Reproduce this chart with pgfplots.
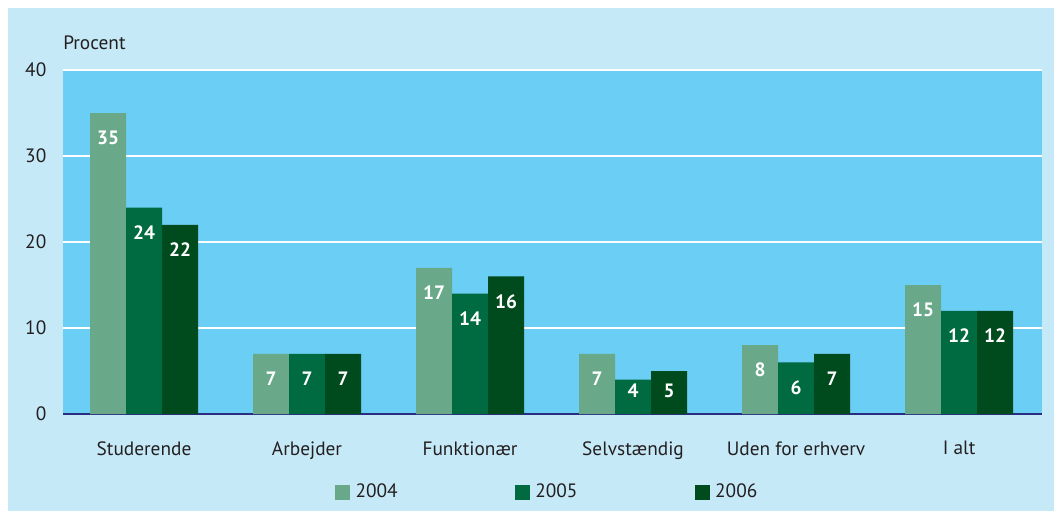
\documentclass[border=0pt]{standalone}
\usepackage{fontspec}
\setmainfont{PT Sans}
\usepackage{pgfplots}
\usepackage{pgfplotstable}
\pgfplotsset{compat=1.18}
\definecolor{outerbg}{HTML}{C6E9F8}
\definecolor{plotbg}{HTML}{6BCEF4}
\definecolor{cA}{HTML}{69A98A}
\definecolor{cB}{HTML}{006A40}
\definecolor{cC}{HTML}{004B1E}
\definecolor{navy}{HTML}{2B2E80}
\definecolor{textgray}{HTML}{231F20}
\pgfplotstableread{
x a b c
0 35 24 22
1 7 7 7
2 17 14 16
3 7 4 5
4 8 6 7
5 15 12 12
}\datatable
\begin{document}
\fontsize{14.5}{17}\selectfont
\begin{tikzpicture}[x=1pt,y=1pt]
\path[use as bounding box] (0,0) rectangle (790.5,383.25);
\fill[white] (0,0) rectangle (790.5,383.25);
\fill[outerbg] (6,0) rectangle (790.5,377.25);
\begin{axis}[
 at={(47.25pt,72.75pt)}, anchor=south west,
 scale only axis, width=734.25pt, height=258pt,
 xmin=-0.497, xmax=5.509, ymin=0, ymax=40,
 ytick={0,10,20,30,40}, xtick={0,...,5},
 xticklabels={Studerende,Arbejder,Funktionær,Selvstændig,Uden for erhverv,I alt},
 ybar=0pt, bar width=27pt,
 axis background/.style={fill=plotbg},
 ymajorgrids, grid style={white, line width=1.5pt},
 axis x line*=bottom, axis y line*=left,
 y axis line style={draw=none},
 x axis line style={draw=navy, line width=1.5pt, -},
 major tick length=0pt,
 tick label style={font=\fontsize{14.5}{17}\selectfont, text=textgray},
 /pgf/number format/assume math mode=true,
 yticklabel style={xshift=-7.5pt},
 xticklabel style={yshift=-15.5pt},
 clip=false,
 nodes near coords,
 every node near coord/.append style={font=\fontsize{14.5}{17}\selectfont\bfseries, text=white, anchor=center,
   /utils/exec={\pgfmathfloattofixed{\pgfplotspointmeta}\let\rawy\pgfmathresult},
   yshift={-min(18.75,(\rawy-2.7)*6.45)*1pt}},
 legend columns=3,
 legend image code/.code={\fill[#1] (0pt,-5.625pt) rectangle (11.25pt,5.625pt);},
 legend style={at={(0.2778,-0.2282)}, anchor=west, draw=none, fill=none, inner sep=0pt,
   font=\fontsize{14.5}{17}\selectfont, text=textgray,
   /tikz/every odd column/.append style={column sep=2pt},
   /tikz/every even column/.append style={column sep=86pt}},
]
\addplot[fill=cA, draw=none] table[x=x,y=a] {\datatable};
\addplot[fill=cB, draw=none] table[x=x,y=b] {\datatable};
\addplot[fill=cC, draw=none] table[x=x,y=c] {\datatable};
\legend{2004,2005,2006}
\node[anchor=base west, inner sep=0pt, yshift=15.75pt, text=textgray] at (rel axis cs:0,1) {Procent};
\end{axis}
\end{tikzpicture}
\end{document}
